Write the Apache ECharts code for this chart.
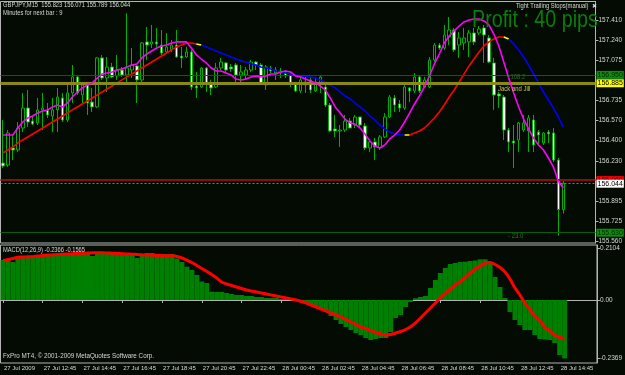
<!DOCTYPE html>
<html><head><meta charset="utf-8">
<script src="https://cdn.jsdelivr.net/npm/echarts@6/dist/echarts.min.js"></script>
<style>html,body{margin:0;padding:0;background:#030b03;}#c{width:625px;height:375px;}</style>
</head><body><div id="c"></div>
<script>
// ---------- data ----------
const timeLabels = ['27 Jul 2009','27 Jul 12:45','27 Jul 14:45','27 Jul 16:45','27 Jul 18:45','27 Jul 20:45','27 Jul 22:45','28 Jul 00:45','28 Jul 02:45','28 Jul 04:45','28 Jul 06:45','28 Jul 08:45','28 Jul 10:45','28 Jul 12:45','28 Jul 14:45'];
const opens = [156.213,156.196,156.339,156.322,156.506,156.673,156.564,156.548,156.657,156.657,
156.606,156.657,156.757,156.573,156.799,156.933,156.782,156.883,156.723,156.682,
157.092,156.924,157.016,156.941,156.991,156.949,156.991,157.025,156.908,157.226,
157.209,157.226,157.200,157.142,157.159,157.200,157.108,157.100,157.142,156.857,
156.849,157.008,156.883,156.849,157.008,157.050,157.016,157.033,156.949,156.949,
156.991,157.058,157.033,156.866,157.008,156.966,156.983,156.966,156.949,156.883,
156.816,156.866,156.908,156.816,156.866,156.849,156.698,156.498,156.481,156.489,
156.564,156.531,156.598,156.523,156.339,156.389,156.339,156.431,156.598,156.757,
156.707,156.673,156.841,156.816,156.933,156.849,156.849,157.075,157.200,157.175,
157.267,157.326,157.200,157.217,157.226,157.301,157.301,157.343,157.259,157.050,
156.790,156.765,156.489,156.397,156.406,156.489,156.481,156.573,156.472,156.380,
156.472,156.464,156.238,155.823];
const closes = [156.188,156.464,156.322,156.506,156.673,156.556,156.539,156.657,156.673,156.615,
156.657,156.765,156.573,156.799,156.933,156.799,156.866,156.715,156.682,157.092,
156.924,157.016,156.933,156.991,156.949,157.008,157.033,156.908,157.217,157.200,
157.226,157.209,157.133,157.184,157.200,157.100,157.092,157.142,156.849,156.841,
157.008,156.883,156.841,157.008,157.058,156.991,157.000,156.949,156.975,156.991,
157.058,157.033,156.883,157.016,156.983,156.991,156.966,156.941,156.883,156.816,
156.908,156.891,156.824,156.891,156.933,156.698,156.481,156.481,156.489,156.564,
156.506,156.598,156.531,156.339,156.389,156.347,156.431,156.598,156.765,156.698,
156.673,156.849,156.816,156.933,156.816,156.908,157.075,157.200,157.175,157.284,
157.326,157.159,157.259,157.259,157.301,157.226,157.334,157.284,157.058,156.782,
156.774,156.489,156.389,156.380,156.548,156.548,156.590,156.364,156.447,156.464,
156.456,156.238,155.823,156.044];
const highs = [156.573,156.489,156.447,156.556,156.799,156.824,156.615,156.757,156.799,156.715,
156.757,156.841,156.799,156.866,157.033,156.949,156.891,156.891,156.841,157.100,
157.117,157.100,157.050,157.117,157.016,157.465,157.175,157.033,157.226,157.351,
157.368,157.343,157.326,157.301,157.242,157.326,157.184,157.184,157.159,156.975,
157.016,157.016,156.908,157.050,157.092,157.058,157.041,157.050,157.033,157.016,
157.075,157.067,157.050,157.033,157.025,157.016,157.008,156.991,156.975,156.891,
156.933,156.933,156.933,156.933,156.949,156.866,156.715,156.615,156.531,156.615,
156.590,156.615,156.598,156.548,156.406,156.422,156.447,156.631,156.782,156.782,
156.740,156.891,156.849,156.966,156.949,156.933,157.100,157.217,157.217,157.368,
157.435,157.343,157.309,157.343,157.326,157.343,157.359,157.368,157.284,157.092,
156.807,156.782,156.506,156.531,156.556,156.615,156.615,156.615,156.489,156.472,
156.489,156.506,156.255,156.071];
const lows = [156.171,156.180,156.238,156.305,156.472,156.514,156.531,156.531,156.489,156.590,
156.472,156.472,156.556,156.556,156.715,156.782,156.715,156.615,156.640,156.673,
156.908,156.807,156.924,156.908,156.933,156.866,156.924,156.715,156.883,157.075,
157.175,157.184,157.117,157.133,157.142,157.092,157.008,157.092,156.824,156.757,
156.841,156.807,156.782,156.841,156.991,156.975,156.975,156.883,156.891,156.908,
156.975,156.991,156.866,156.824,156.966,156.908,156.924,156.924,156.849,156.807,
156.799,156.799,156.799,156.807,156.799,156.682,156.472,156.431,156.347,156.472,
156.506,156.506,156.514,156.322,156.305,156.238,156.322,156.422,156.590,156.640,
156.640,156.657,156.723,156.799,156.799,156.841,156.841,157.058,157.159,157.159,
157.200,157.142,157.092,157.159,157.100,157.200,157.284,157.050,157.050,156.657,
156.673,156.406,156.305,156.171,156.305,156.472,156.305,156.305,156.364,156.364,
156.380,156.221,155.605,155.789];
const fastMA = [156.447,156.447,156.447,156.506,156.556,156.590,156.606,156.631,156.648,156.657,
156.682,156.698,156.682,156.715,156.765,156.807,156.841,156.866,156.883,156.924,
156.958,156.966,156.975,156.991,157.000,157.016,157.033,157.041,157.092,157.125,
157.150,157.175,157.192,157.200,157.217,157.226,157.226,157.226,157.175,157.117,
157.083,157.050,157.008,156.983,156.983,156.966,156.949,156.916,156.908,156.916,
156.933,156.941,156.933,156.941,156.958,156.958,156.975,156.983,156.975,156.941,
156.933,156.916,156.899,156.883,156.857,156.824,156.757,156.682,156.631,156.581,
156.548,156.539,156.506,156.456,156.397,156.355,156.339,156.364,156.414,156.447,
156.489,156.556,156.631,156.707,156.774,156.849,156.941,157.041,157.125,157.217,
157.276,157.318,157.359,157.393,157.410,157.418,157.418,157.401,157.368,157.292,
157.192,157.058,156.924,156.799,156.682,156.581,156.498,156.422,156.364,156.322,
156.255,156.180,156.062,156.004];
const slowMA = [156.297,156.322,156.347,156.380,156.406,156.431,156.456,156.481,156.506,156.531,
156.556,156.581,156.606,156.631,156.657,156.682,156.707,156.732,156.757,156.782,
156.807,156.832,156.857,156.883,156.908,156.933,156.958,156.983,157.008,157.033,
157.058,157.083,157.108,157.133,157.159,157.184,157.200,157.217,157.217,157.209,
157.200,157.184,157.167,157.150,157.133,157.117,157.100,157.083,157.067,157.058,
157.041,157.033,157.016,157.008,157.000,156.983,156.975,156.966,156.958,156.949,
156.941,156.941,156.933,156.924,156.908,156.891,156.866,156.841,156.807,156.774,
156.749,156.715,156.682,156.648,156.606,156.573,156.531,156.498,156.472,156.456,
156.447,156.447,156.447,156.464,156.481,156.506,156.548,156.590,156.640,156.698,
156.765,156.824,156.891,156.958,157.025,157.083,157.142,157.192,157.226,157.251,
157.267,157.267,157.251,157.209,157.159,157.100,157.033,156.958,156.883,156.807,
156.740,156.673,156.598,156.514];
// trend state of the slow line: [state, fromBar, toBar]
const slowSegments = [['up',0,39],['flat',39,40],['down',40,81],['flat',81,82],['up',82,101],['flat',101,102],['down',102,113]];
const macdHist = [0.1619,0.1619,0.1538,0.1700,0.1741,0.1741,0.1781,0.1822,0.1822,0.1862,
0.1862,0.1862,0.1862,0.1903,0.1903,0.1903,0.1903,0.1903,0.1781,0.1915,
0.1923,0.1923,0.1923,0.1903,0.1862,0.1862,0.1862,0.1700,0.1862,0.1903,
0.1903,0.1862,0.1862,0.1862,0.1862,0.1680,0.1538,0.1348,0.1215,0.1012,
0.0749,0.0688,0.0337,0.0324,0.0324,0.0283,0.0243,0.0202,0.0202,0.0162,
0.0162,0.0121,0.0121,0.0081,0.0081,0.0081,0.0040,0.0040,0.0040,0.0010,
-0.0081,-0.0121,-0.0202,-0.0283,-0.0364,-0.0486,-0.0648,-0.0810,-0.0972,-0.1093,
-0.1215,-0.1336,-0.1417,-0.1538,-0.1619,-0.1579,-0.1538,-0.1538,-0.1296,-0.0729,
-0.0607,-0.0283,-0.0081,0.0069,0.0121,0.0162,0.0486,0.0810,0.1093,0.1296,
0.1457,0.1498,0.1538,0.1551,0.1579,0.1599,0.1648,0.1648,0.1538,0.0931,
0.0526,0.0081,-0.0486,-0.0810,-0.1012,-0.1215,-0.1215,-0.1417,-0.1579,-0.1599,
-0.1619,-0.1741,-0.2227,-0.2366];
const macdSignal = [0.1599,0.1640,0.1680,0.1729,0.1741,0.1749,0.1753,0.1781,0.1802,0.1822,
0.1830,0.1842,0.1854,0.1862,0.1874,0.1887,0.1891,0.1903,0.1911,0.1915,
0.1915,0.1903,0.1895,0.1883,0.1870,0.1862,0.1854,0.1842,0.1830,0.1822,
0.1814,0.1806,0.1798,0.1794,0.1789,0.1761,0.1700,0.1619,0.1518,0.1397,
0.1275,0.1154,0.1032,0.0891,0.0729,0.0648,0.0587,0.0526,0.0466,0.0405,
0.0364,0.0324,0.0283,0.0243,0.0202,0.0162,0.0121,0.0081,0.0040,0.0000,
-0.0061,-0.0121,-0.0202,-0.0283,-0.0364,-0.0445,-0.0526,-0.0607,-0.0688,-0.0789,
-0.0891,-0.0992,-0.1093,-0.1154,-0.1235,-0.1316,-0.1377,-0.1417,-0.1397,-0.1336,
-0.1275,-0.1194,-0.1081,-0.0931,-0.0729,-0.0526,-0.0324,-0.0121,0.0081,0.0263,
0.0445,0.0607,0.0749,0.0911,0.1093,0.1255,0.1377,0.1498,0.1518,0.1437,
0.1316,0.1134,0.0850,0.0486,0.0202,-0.0121,-0.0385,-0.0648,-0.0850,-0.1093,
-0.1255,-0.1417,-0.1518,-0.1565];
const priceTicks = [157.410,157.240,157.075,156.735,156.570,156.400,156.230,155.895,155.725,155.560];
const macdTicks = [0.2104,0,-0.2369];
const levelValues = [156.950,156.885,156.066,156.044,155.630];
const levelLabels = ['156.950','156.885','156.066','156.044','155.630'];

// ---------- styles / build ----------
const BG = '#030b03';
const FONT = "'Liberation Sans',Arial,sans-serif";
const TXT = '#d8d8d8';
const AX = '#b4b4b4';
const nBars = opens.length, pad = 6;
const cats = Array.from({length: nBars + pad}, (_, i) => String(i));
const candleData = opens.map((o, i) => [o, closes[i], lows[i], highs[i]]);
const stateColor = {up: '#ff0000', flat: '#ffff00', down: '#0000ff'};
const slowSeries = slowSegments.map(([st, a, b]) => ({
  type: 'line', xAxisIndex: 0, yAxisIndex: 0, symbol: 'none', silent: true, z: 4,
  lineStyle: {color: stateColor[st], width: 1.6},
  data: slowMA.map((v, i) => (i >= a && i <= b) ? v : null),
  connectNulls: false
}));
const levelStyle = [
  {line: {color: '#0d5c0d', width: 1, type: 'solid'}, bg: '#0c8c0c', fg: '#002800'},
  {line: {color: '#8a8a12', width: 3, type: 'solid'}, bg: '#ffff00', fg: '#000000'},
  {line: {color: '#8a0e0e', width: 2, type: 'solid'}, bg: '#ff0000', fg: '#300000'},
  {line: {color: '#6e7c8c', width: 1, type: [2, 2]}, bg: '#ffffff', fg: '#000000'},
  {line: {color: '#0d5c0d', width: 1, type: 'solid'}, bg: '#0c8c0c', fg: '#002800'}
];
const markData = levelValues.map((v, i) => ({
  yAxis: v,
  lineStyle: levelStyle[i].line,
  label: {show: true, position: 'end', distance: 1, formatter: levelLabels[i],
    backgroundColor: levelStyle[i].bg, color: levelStyle[i].fg, fontSize: 7, fontFamily: FONT,
    padding: [1, 1, 0, 1], lineHeight: 7}
}));
const txt = (x, y, text, fill, size, sx) => ({
  type: 'text', x: x, y: y, z: 10, scaleX: sx, silent: true,
  style: {text: text, fill: fill, font: size + 'px ' + FONT, verticalAlign: 'top'}
});

const chart = echarts.init(document.getElementById('c'), null, {renderer: 'canvas'});
chart.setOption({
  animation: false,
  backgroundColor: BG,
  textStyle: {fontFamily: FONT},
  grid: [
    {left: 0.5, right: 24.5, top: 1.5, height: 241.5, show: true, borderColor: AX, borderWidth: 1, backgroundColor: 'transparent'},
    {left: 0.5, right: 24.5, top: 245, height: 118, show: true, borderColor: AX, borderWidth: 1, backgroundColor: 'transparent'}
  ],
  xAxis: [
    {type: 'category', gridIndex: 0, data: cats, boundaryGap: true,
     axisLine: {show: false}, axisTick: {show: false}, axisLabel: {show: false}, splitLine: {show: false}},
    {type: 'category', gridIndex: 1, data: cats, boundaryGap: true,
     axisLine: {show: true, lineStyle: {color: AX}},
     axisTick: {show: true, alignWithLabel: true, length: 3, lineStyle: {color: AX},
       interval: (idx) => idx % 8 === 0 && idx < nBars},
     axisLabel: {show: true, color: TXT, fontSize: 6, fontFamily: FONT, align: 'left', margin: 2,
       padding: [0, 0, 0, 1], hideOverlap: false,
       interval: (idx) => idx % 8 === 0 && idx < nBars,
       formatter: (v, idx) => timeLabels[idx / 8] || ''},
     splitLine: {show: false}}
  ],
  yAxis: [
    {type: 'value', gridIndex: 0, position: 'right', min: 155.544, max: 157.564, scale: true,
     axisLine: {show: true, lineStyle: {color: AX}},
     axisTick: {show: true, length: 3, lineStyle: {color: AX}, customValues: priceTicks},
     axisLabel: {show: true, color: TXT, fontSize: 6.5, fontFamily: FONT, margin: 3,
       customValues: priceTicks, formatter: (v) => v.toFixed(3)},
     splitLine: {show: false}},
    {type: 'value', gridIndex: 1, position: 'right', min: -0.2551, max: 0.2227,
     axisLine: {show: true, lineStyle: {color: AX}},
     axisTick: {show: true, length: 3, lineStyle: {color: AX}, customValues: macdTicks},
     axisLabel: {show: true, color: TXT, fontSize: 6.5, fontFamily: FONT, margin: 3,
       customValues: macdTicks, formatter: (v) => v === 0 ? '0.00' : v.toFixed(4)},
     splitLine: {show: false}}
  ],
  series: [
    {type: 'line', xAxisIndex: 0, yAxisIndex: 0, data: [], silent: true, z: 1,
     markLine: {symbol: 'none', silent: true, animation: false, data: markData}},
    {type: 'candlestick', xAxisIndex: 0, yAxisIndex: 0, data: candleData, barWidth: 3, z: 3,
     itemStyle: {color: BG, color0: '#ffffff', borderColor: '#00b000', borderColor0: '#00b000', borderWidth: 1}},
    {type: 'line', xAxisIndex: 0, yAxisIndex: 0, data: fastMA, symbol: 'none', silent: true, z: 5,
     lineStyle: {color: '#ff00ff', width: 1.6}},
    ...slowSeries,
    {type: 'bar', xAxisIndex: 1, yAxisIndex: 1, data: macdHist, barWidth: 5, barCategoryGap: '0%',
     itemStyle: {color: '#008000'}, silent: true, z: 2},
    {type: 'line', xAxisIndex: 1, yAxisIndex: 1, data: macdSignal, symbol: 'none', silent: true, z: 3,
     smooth: 0.3, lineStyle: {color: '#ff0000', width: 3}}
  ],
  graphic: [
    txt(3, 2, 'GBPJPY,M15  155.823 156.071 155.789 156.044', TXT, 7, 0.83),
    txt(3, 10, 'Minutes for next bar : 9', TXT, 7, 0.83),
    txt(516, 3, 'Tight Trailing Stops(manual)', TXT, 7, 0.83),
    {type: 'text', x: 592, y: 3, z: 10, silent: true, style: {text: '✖', fill: TXT, font: '6px DejaVu Sans', verticalAlign: 'top'}},
    txt(472, 8, 'Profit : 40 pips', '#0c7c0c', 24, 0.82),
    txt(507, 74, '+108.2', '#2a6a2a', 7, 0.85),
    txt(498, 86, 'Jack and Jill', '#c8c860', 7, 0.85),
    txt(508, 233, '- 23.0', '#2a7a2a', 7, 0.85),
    txt(3, 247, 'MACD(12,26,9) -0.2366 -0.1565', TXT, 7, 0.82),
    txt(3, 353, 'FxPro MT4, © 2001-2009 MetaQuotes Software Corp.', TXT, 7, 0.9)
  ]
});
</script></body></html>
